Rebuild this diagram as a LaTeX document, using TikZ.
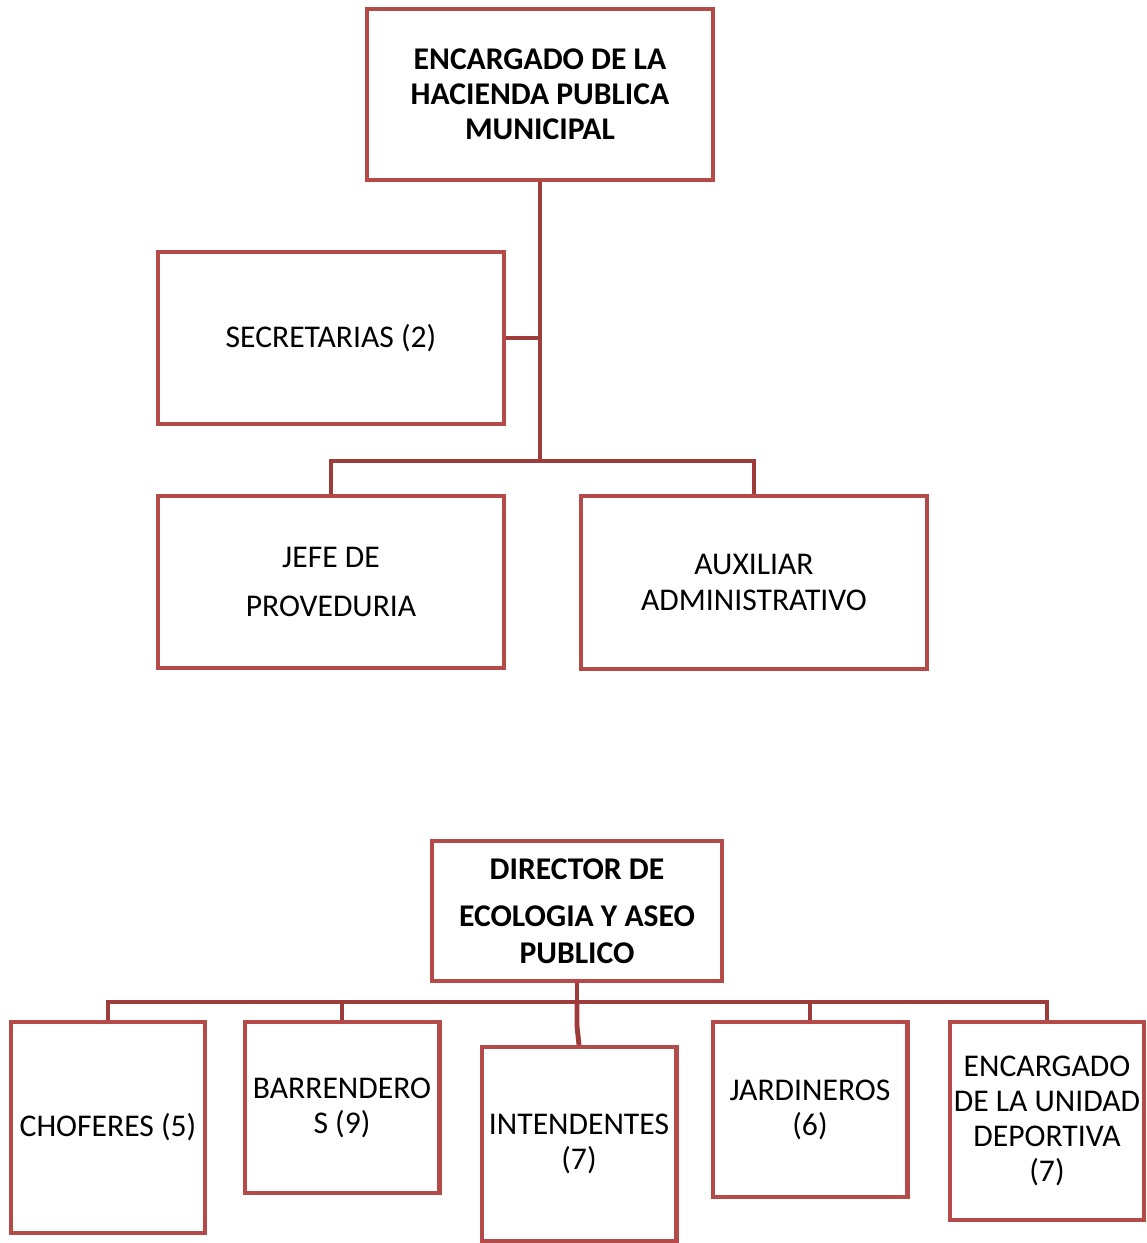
\documentclass[tikz,border=0pt]{standalone}
\usepackage{fontspec}
\setmainfont{Carlito}
\usepackage{tikz}
\usetikzlibrary{positioning}
\definecolor{boxred}{RGB}{180, 75, 72}
\definecolor{linkred}{RGB}{158, 60, 60}

\begin{document}
\begin{tikzpicture}[
    x=0.02cm, y=-0.02cm,
    box/.style={draw=boxred, line width=2.3pt, fill=white, align=center, inner sep=0pt, font=\fontsize{18}{20}\selectfont},
    headbox/.style={box, font=\fontsize{18}{20}\selectfont\bfseries},
    link/.style={draw=linkred, line width=2.8pt},
]
    \useasboundingbox (0,0) rectangle (1146,1243);

    % Hacienda
    \node[headbox, minimum width=6.92cm, minimum height=3.42cm] (hacienda) at (540, 94.5) {ENCARGADO DE LA\\HACIENDA PUBLICA\\MUNICIPAL};
    \node[box, minimum width=6.92cm, minimum height=3.44cm] (secretarias) at (331, 338) {SECRETARIAS (2)};
    \node[box, minimum width=6.92cm, minimum height=3.44cm] (jefe) at (331, 582) {JEFE DE\\[8pt]PROVEDURIA};
    \node[box, minimum width=6.92cm, minimum height=3.46cm] (auxiliar) at (754, 582.5) {AUXILIAR\\ADMINISTRATIVO};

    \coordinate (hub) at (540, 461);
    \draw[link] (hacienda) -- (hub);
    \draw[link] (secretarias.east) -- (secretarias.east -| hub);
    \draw[link] (jefe.north) |- (hub) -| (auxiliar.north);

    % Ecologia y aseo
    \node[headbox, minimum width=5.8cm, minimum height=2.8cm] (director) at (577, 911) {DIRECTOR DE\\[7pt]ECOLOGIA Y ASEO\\[1pt]PUBLICO};
    \node[box, minimum width=3.88cm, minimum height=4.22cm] (choferes) at (108, 1127.5) {CHOFERES (5)};
    \node[box, minimum width=3.9cm, minimum height=3.42cm] (barrenderos) at (342, 1107.5) {BARRENDERO\\S (9)};
    \node[box, minimum width=3.9cm, minimum height=3.88cm] (intendentes) at (579, 1144) {INTENDENTES\\(7)};
    \node[box, minimum width=3.9cm, minimum height=3.5cm] (jardineros) at (810, 1109.5) {JARDINEROS\\(6)};
    \node[box, minimum width=3.88cm, minimum height=3.96cm] (deportiva) at (1047, 1121) {ENCARGADO\\DE LA UNIDAD\\DEPORTIVA\\(7)};

    \coordinate (bus) at (577, 1002);
    \draw[link] (director) -- (bus);
    \draw[link] (choferes.north) |- (bus) -| (deportiva.north);
    \draw[link] (barrenderos.north) -- (barrenderos.north |- bus);
    \draw[link] (jardineros.north) -- (jardineros.north |- bus);
    \draw[link] (bus) -- ++(0, 24) -- (intendentes.north);

\end{tikzpicture}
\end{document}
